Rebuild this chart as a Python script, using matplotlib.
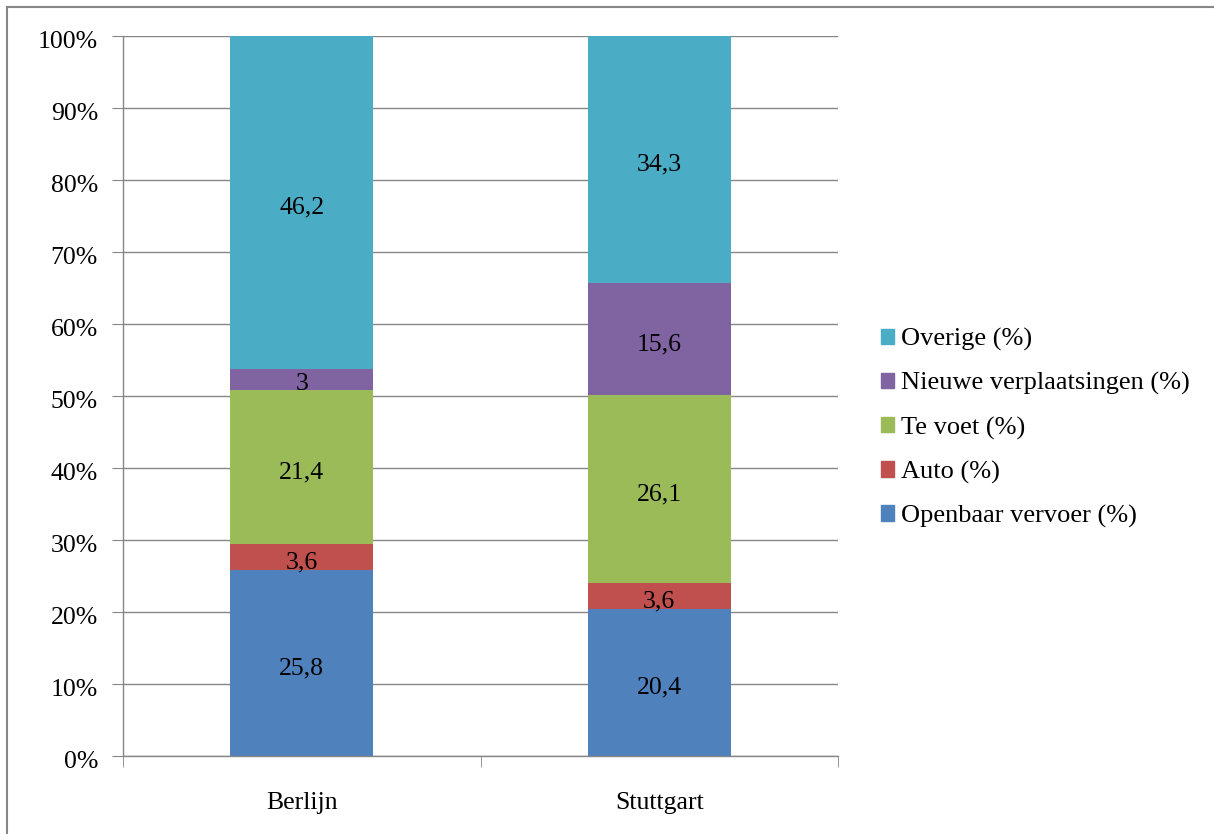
import matplotlib.pyplot as plt
from matplotlib.lines import Line2D
from matplotlib.patches import Patch
from matplotlib.transforms import ScaledTranslation
import numpy as np

plt.rcParams['font.family'] = ['Liberation Serif', 'DejaVu Serif']

# Modal split per city (%)
cities = ['Berlijn', 'Stuttgart']
series = ['Openbaar vervoer (%)', 'Auto (%)', 'Te voet (%)',
          'Nieuwe verplaatsingen (%)', 'Overige (%)']
openbaar = [25.8, 20.4]
auto = [3.6, 3.6]
te_voet = [21.4, 26.1]
nieuw = [3, 15.6]
overige = [46.2, 34.3]
colors = ['#4F81BD', '#C0504D', '#9BBB59', '#8064A2', '#4BACC6']

values = [openbaar, auto, te_voet, nieuw, overige]

fig = plt.figure(figsize=(12.14, 8.34), dpi=100)
ax = fig.add_axes([123 / 1214, 1 - 756 / 834, (838 - 123) / 1214, (756 - 36) / 834])

# nudge text slightly downward, like Times baseline placement
label_shift = ax.transData + ScaledTranslation(0, -5 / 100, fig.dpi_scale_trans)

x = np.arange(len(cities))
bottom = np.zeros(len(cities))
for name, vals, col in zip(series, values, colors):
    vals = np.array(vals, dtype=float)
    ax.bar(x, vals, width=0.4, bottom=bottom, color=col, zorder=2)
    for xi, b, v in zip(x, bottom, vals):
        label = f"{v:g}".replace('.', ',')
        ax.text(xi, b + v / 2, label, ha='center', va='center',
                fontsize=18.5, color='black', zorder=3, transform=label_shift)
    bottom += vals

ax.set_xlim(-0.5, 1.5)
ax.set_ylim(0, 100)
ax.set_yticks(np.arange(0, 101, 10))
ax.set_yticklabels([f"{v}%" for v in range(0, 101, 10)], fontsize=18.5)
ax.set_xticks(x)
ax.set_xticklabels(cities, fontsize=18.5)
ax.set_xticks([-0.5, 0.5, 1.5], minor=True)
ax.tick_params(axis='x', which='major', length=0, pad=26)
ax.tick_params(axis='x', which='minor', length=8, color='#868686')
ax.tick_params(axis='y', length=8, color='#868686', pad=10)
tick_shift = ScaledTranslation(0, -3 / 100, fig.dpi_scale_trans)
for lbl in ax.get_yticklabels():
    lbl.set_transform(lbl.get_transform() + tick_shift)
ax.grid(True, axis='y', color='#868686', linewidth=1, zorder=0)
ax.set_axisbelow(True)
for side in ['top', 'right']:
    ax.spines[side].set_visible(False)
for side in ['left', 'bottom']:
    ax.spines[side].set_color('#868686')
    ax.spines[side].set_linewidth(1)

handles = [Patch(color=c) for c in colors][::-1]
fig.legend(handles, series[::-1], loc='center left',
           bbox_to_anchor=(857 / 1214, 1 - 428 / 834), frameon=False,
           fontsize=19, handlelength=0.52, handleheight=0.52,
           handletextpad=0.25, labelspacing=0.8)

# outer frame (top and left edges)
fig.add_artist(Line2D([7 / 1214, 1], [1 - 7 / 834, 1 - 7 / 834],
                      transform=fig.transFigure, color='#868686', linewidth=1.5))
fig.add_artist(Line2D([7 / 1214, 7 / 1214], [0, 1 - 7 / 834],
                      transform=fig.transFigure, color='#868686', linewidth=1.5))

fig.savefig('out.png', dpi=100)
